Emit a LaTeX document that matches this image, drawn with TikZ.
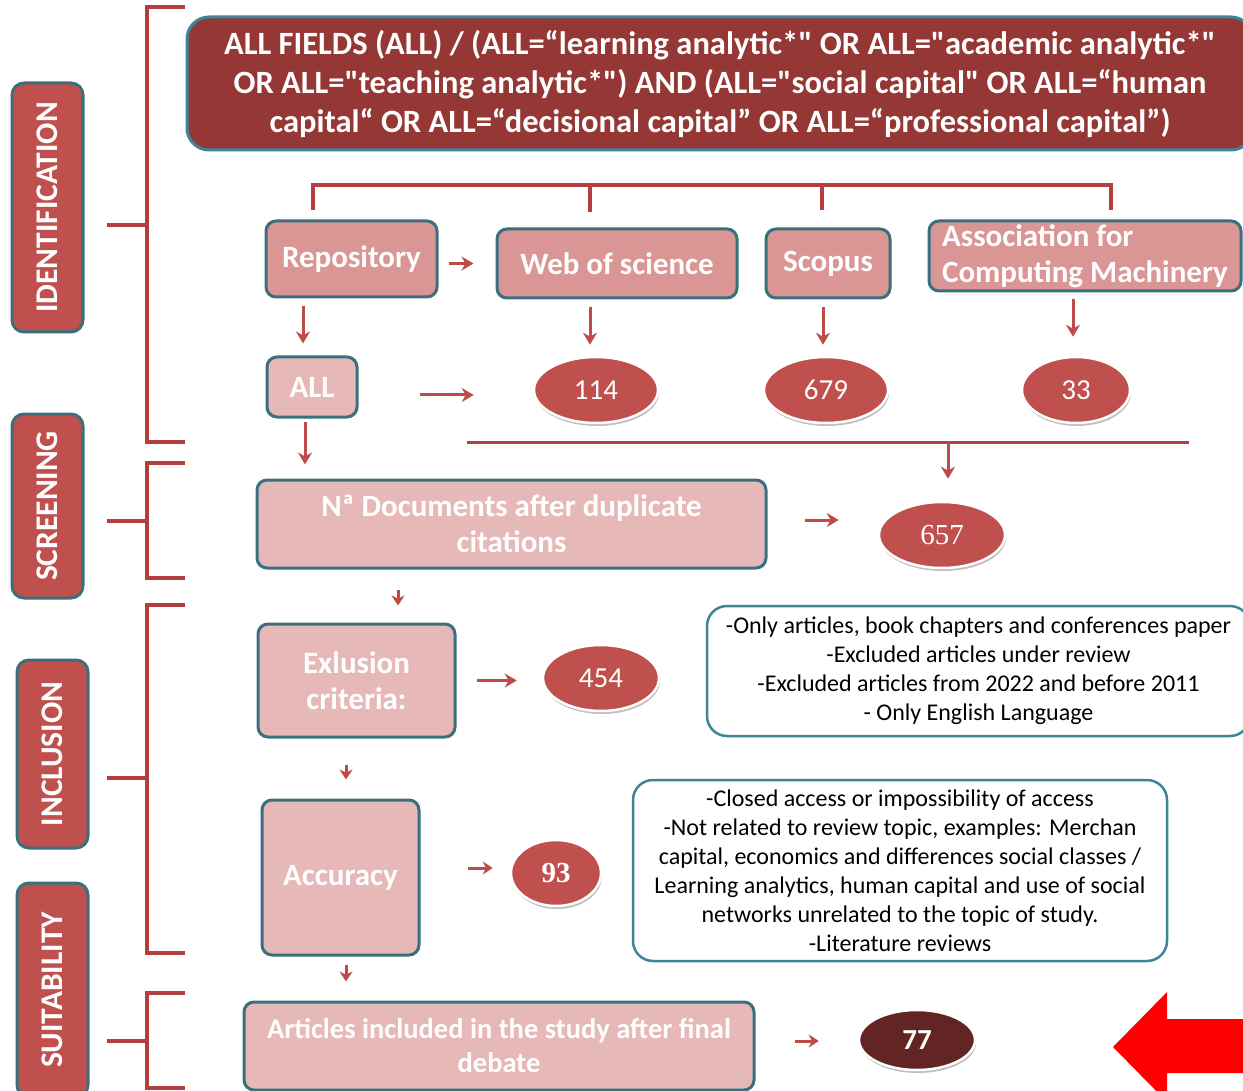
\documentclass[tikz,border=0pt]{standalone}
\usepackage{fontspec}
\setmainfont{Carlito}
\newfontfamily\cf{Carlito}
\newfontfamily\tf{Liberation Serif}
\usetikzlibrary{shapes.geometric,shadows,arrows.meta}
\definecolor{hdr}{HTML}{953735}
\definecolor{labc}{HTML}{C0504D}
\definecolor{boxa}{HTML}{D99694}
\definecolor{boxb}{HTML}{E6B9B8}
\definecolor{bord}{HTML}{3A6F7D}
\definecolor{bordl}{HTML}{3F8597}
\definecolor{brkc}{HTML}{B3403E}
\definecolor{arrc}{HTML}{BE4B48}
\definecolor{ellc}{HTML}{C0504D}
\definecolor{elld}{HTML}{632523}
\definecolor{bigred}{HTML}{FF0000}
\tikzset{
 lab/.style={draw=bord, line width=3pt, fill=labc, rounded corners=12pt, rotate=90, text=white, font=\cf\fontsize{31.5}{33}\selectfont\bfseries, inner sep=0pt},
 hdrbox/.style={draw=bordl, line width=3pt, fill=hdr, rounded corners=22pt, text=white, font=\cf\fontsize{32.5}{39}\selectfont\bfseries, align=center, inner sep=0pt},
 pbox/.style={draw=bord, line width=3pt, fill=boxa, rounded corners=10pt, text=white, font=\cf\fontsize{31}{36}\selectfont\bfseries, align=center, inner sep=0pt},
 lbox/.style={pbox, fill=boxb},
 tbox/.style={draw=bordl, line width=2.5pt, fill=white, rounded corners=20pt, font=\cf\fontsize{24}{29}\selectfont, align=center, inner sep=0pt},
 num/.style={ellipse, fill=ellc, draw=white, line width=2.5pt, text=white, font=\cf\fontsize{29}{30}\selectfont, inner sep=0pt, drop shadow={shadow xshift=1pt, shadow yshift=-3pt, fill=black, opacity=0.25}},
 brk/.style={draw=brkc, line width=3.5pt},
 arr/.style={draw=arrc, line width=3pt, -{Stealth[length=12pt,width=14pt]}},
 sarr/.style={draw=arrc, line width=3pt, -{Stealth[length=10pt,width=13pt]}},
}
\begin{document}
\begin{tikzpicture}[x=1pt,y=-1pt]
\useasboundingbox (0,0) rectangle (1243,1091);
\fill[white] (0,0) rectangle (1243,1091);

% left labels
\node[lab, minimum width=249, minimum height=71] (lid) at (47.5,207.5) {IDENTIFICATION};
\node[lab, minimum width=184, minimum height=71] (lsc) at (47.5,506) {SCREENING};
\node[lab, minimum width=188, minimum height=71] (lin) at (52.5,754) {INCLUSION};
\node[lab, minimum width=214, minimum height=71] (lsu) at (52.5,990) {SUITABILITY};

% brackets
\draw[brk] (185,7) -- (147,7) -- (147,442) -- (185,442);
\draw[brk] (107,225) -- (147,225);
\draw[brk] (185,463) -- (147,463) -- (147,578) -- (185,578);
\draw[brk] (107,521) -- (147,521);
\draw[brk] (185,605) -- (147,605) -- (147,953) -- (185,953);
\draw[brk] (107,778) -- (147,778);
\draw[brk] (185,993) -- (147,993) -- (147,1088) -- (185,1088);
\draw[brk] (107,1041) -- (147,1041);

% header
\node[hdrbox, minimum width=1066, minimum height=133] (hdr) at (720,83.5)
 {ALL FIELDS (ALL) / (ALL=“learning analytic*" OR ALL="academic analytic*"\\
  OR ALL="teaching analytic*") AND (ALL="social capital" OR ALL=“human\\
  capital“ OR ALL=“decisional capital” OR ALL=“professional capital”)};

% sources
\node[pbox, minimum width=171, minimum height=76] (repo) at (351.5,259) {Repository};
\node[pbox, minimum width=240, minimum height=69] (wos) at (617,263.5) {Web of science};
\node[pbox, minimum width=124, minimum height=69] (sco) at (828,263.5) {Scopus};
\node[pbox, minimum width=312, minimum height=70, align=left] (acm) at (1085,256) {Association for\\Computing Machinery};

% distribution line
\coordinate (d1) at (313,185);
\coordinate (d2) at (590,185);
\coordinate (d3) at (822,185);
\coordinate (d4) at (1111,185);
\draw[brk] ([yshift=-25]d1) -- (d1) -- (d4) -- ([yshift=-25]d4);
\draw[brk] (d2) -- ([yshift=-27]d2);
\draw[brk] (d3) -- ([yshift=-25]d3);

\node[lbox, minimum width=90, minimum height=60] (all) at (312,387) {ALL};

\node[num, minimum width=124, minimum height=66] (e114) at (596,390) {114};
\node[num, minimum width=124, minimum height=66] (e679) at (826,390) {679};
\node[num, minimum width=108, minimum height=66] (e33) at (1076,390) {33};

\draw[arr, shorten <=10, shorten >=22] (repo.east |- wos.west) -- (wos.west);
\draw[arr, shorten <=8, shorten >=12] ([xshift=-48.5]repo.south) -- ([xshift=-48.5]repo.south |- all.north);
\draw[arr, shorten <=8, shorten >=11] ([xshift=-27]wos.south) -- ([xshift=-27]wos.south |- e114.north);
\draw[arr, shorten <=8, shorten >=11] ([xshift=-5]sco.south) -- ([xshift=-5]sco.south |- e679.north);
\draw[arr, shorten <=7, shorten >=19] ([xshift=-12]acm.south) -- ([xshift=-12]acm.south |- e33.north);
\draw[arr, shorten <=61, shorten >=59] ([yshift=-8]all.east) -- ([yshift=-8]all.east -| e114.west);

% screening
\node[lbox, minimum width=509, minimum height=88] (dup) at (511.5,524) {Nª Documents after duplicate\\citations};
\node[num, minimum width=126, minimum height=66, font=\tf\fontsize{29}{30}\selectfont] (e657) at (942,535) {657};
\draw[arr, shorten <=3, shorten >=14] ([xshift=-7]all.south) -- ([xshift=-7]all.south |- dup.north);
\coordinate (m1) at (467,442);
\coordinate (m2) at (1189,442);
\coordinate (mj) at (948,442);
\draw[brk, line width=3pt] (m1) -- (m2);
\draw[arr, shorten >=22] (mj) -- (mj |- e657.north);
\draw[arr, shorten <=37, shorten >=39] ([yshift=4]dup.east) -- ([yshift=4]dup.east -| e657.west);

% inclusion
\node[lbox, minimum width=197, minimum height=113] (excl) at (356.5,680.5) {Exlusion\\criteria:};
\node[num, minimum width=116, minimum height=66] (e454) at (601,678) {454};
\node[tbox, minimum width=543, minimum height=130] (tb1) at (978.5,671)
 {-Only articles, book chapters and conferences paper\\
  -Excluded articles under review\\
  -Excluded articles from 2022 and before 2011\\
  - Only English Language};
\draw[sarr, shorten <=20, shorten >=17] ([xshift=-113.5]dup.south) -- ([xshift=-113.5]dup.south |- excl.north);
\draw[arr, shorten <=20, shorten >=25] (excl.east) -- (excl.east -| e454.west);

\node[lbox, minimum width=157, minimum height=155] (acc) at (340.5,877.5) {Accuracy};
\node[num, minimum width=90, minimum height=66, font=\tf\bfseries\fontsize{29}{30}\selectfont] (e93) at (556,873) {93};
\node[tbox, minimum width=534, minimum height=181] (tb2) at (900,870.5)
 {-Closed access or impossibility of access\\
  -Not related to review topic, examples: Merchan\\
  capital, economics and differences social classes /\\
  Learning analytics, human capital and use of social\\
  networks unrelated to the topic of study.\\
  -Literature reviews};
\draw[sarr, shorten <=26, shorten >=19] ([xshift=-10.5]excl.south) -- ([xshift=-10.5]excl.south |- acc.north);
\draw[sarr, shorten <=47, shorten >=17] ([yshift=9.5]acc.east) -- ([yshift=9.5]acc.east -| e93.west);

% suitability
\node[lbox, minimum width=510, minimum height=88, font=\cf\fontsize{28.5}{34}\selectfont\bfseries] (fin) at (499,1046) {Articles included in the study after final\\debate};
\node[num, fill=elld, minimum width=116, minimum height=60, font=\cf\fontsize{29}{30}\selectfont\bfseries] (e77) at (917,1040) {77};
\draw[sarr, shorten <=8, shorten >=19] ([xshift=5.5]acc.south) -- ([xshift=5.5]acc.south |- fin.north);
\draw[sarr, shorten <=39, shorten >=39] ([yshift=5]fin.east) -- ([yshift=5]fin.east -| e77.west);

% big red arrow
\fill[bigred] (1113,1047) -- (1167,992) -- (1167,1019) -- (1250,1019) -- (1250,1073) -- (1167,1073) -- (1167,1102) -- cycle;
\end{tikzpicture}
\end{document}
